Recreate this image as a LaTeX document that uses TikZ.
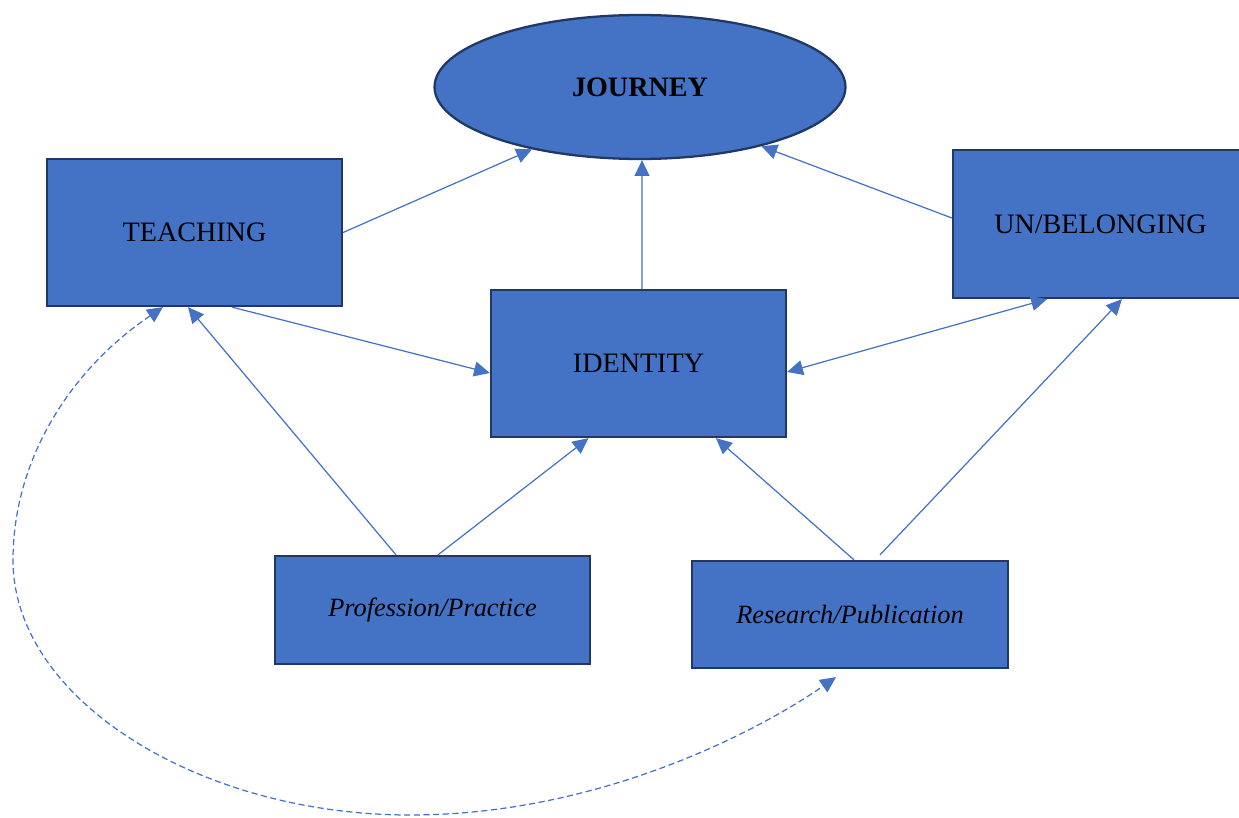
\documentclass[tikz,border=0pt]{standalone}
\usepackage{fontspec}
\setmainfont{Liberation Serif}
\usetikzlibrary{arrows.meta,shapes.geometric}
\definecolor{boxfill}{RGB}{68,114,196}
\definecolor{boxline}{RGB}{32,56,100}
\definecolor{conn}{RGB}{68,114,196}
\begin{document}
\begin{tikzpicture}[x=0.02cm,y=-0.02cm,
  box/.style={draw=boxline,fill=boxfill,line width=1.3pt,inner sep=0pt,
    font=\fontsize{16}{19}\selectfont},
  itbox/.style={box,font=\fontsize{15}{18}\selectfont\itshape},
  oval/.style={ellipse,draw=boxline,fill=boxfill,line width=1.3pt,inner sep=0pt,
    font=\fontsize{16}{19}\selectfont\bfseries},
  conn/.style={draw=conn,line width=0.7pt,-{Triangle[length=9pt,width=8.5pt]}},
  connboth/.style={draw=conn,line width=0.7pt,{Triangle[length=9pt,width=8.5pt]}-{Triangle[length=9pt,width=8.5pt]}},
  dashconn/.style={connboth,dash pattern=on 3.5pt off 2pt}]
\useasboundingbox (0,0) rectangle (1239,817);
\clip (0,0) rectangle (1239,817);
\node[oval,minimum width=8.22cm,minimum height=2.88cm] (journey) at (640,87) {JOURNEY};
\node[box,minimum width=5.9cm,minimum height=2.94cm] (teach) at (194.5,232.5) {\raisebox{-2pt}{TEACHING}};
\node[box,minimum width=5.9cm,minimum height=2.96cm] (unbel) at (1100.5,224) {UN/BELONGING};
\node[box,minimum width=5.9cm,minimum height=2.94cm] (ident) at (638.5,363.5) {IDENTITY};
\node[itbox,minimum width=6.3cm,minimum height=2.16cm] (prof) at (432.5,610) {Profession/Practice};
\node[itbox,minimum width=6.32cm,minimum height=2.14cm] (res) at (850,614.5) {Research/Publication};

\draw[conn] (teach.east) -- (journey.210);
\draw[conn] ([xshift=0.07cm]ident.north) -- ([xshift=0.04cm]journey.south);
\draw[conn] ([yshift=0.12cm]unbel.west) -- (journey.334);
\draw[conn] ([xshift=0.75cm]teach.south) -- ([yshift=-0.19cm]ident.west);
\draw[connboth] ([yshift=-0.17cm]ident.east) -- ([xshift=-1.07cm]unbel.south);
\draw[conn] ([xshift=-0.73cm]prof.north) -- ([xshift=-0.13cm]teach.south);
\draw[conn] ([xshift=0.11cm]prof.north) -- ([xshift=-1.0cm]ident.south);
\draw[conn] ([xshift=0.08cm]res.north) -- ([xshift=1.55cm]ident.south);
\draw[conn] ([xshift=0.6cm,yshift=0.1cm]res.north) -- ([xshift=0.43cm]unbel.south);

\coordinate (c1) at (13,560);
\coordinate (c2) at (410,815);
\draw[dashconn] ([xshift=-0.63cm]teach.south)
  .. controls (70,370) and (13,460) .. (c1)
  .. controls (13,700) and (200,815) .. (c2)
  .. controls (600,815) and (760,730) .. ([xshift=-0.28cm,yshift=-0.16cm]res.south);
\end{tikzpicture}
\end{document}
